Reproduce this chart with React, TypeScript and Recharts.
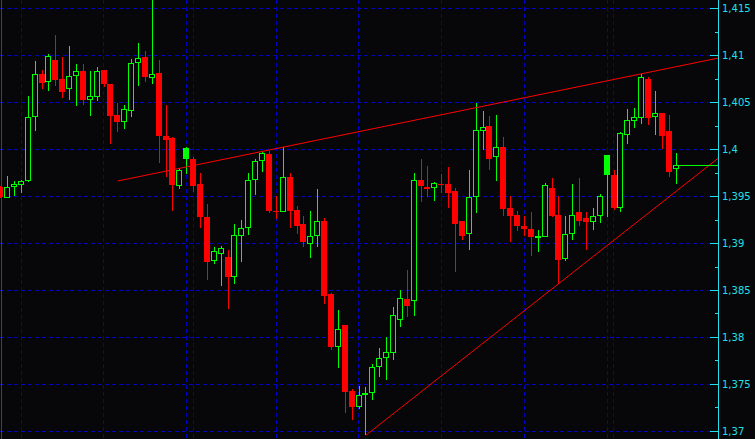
import { ComposedChart, Bar, XAxis, YAxis, ReferenceLine, CartesianGrid } from "recharts";

// One candle per period, oldest first
const opens = [
  1.3960, 1.3948, 1.3960, 1.3962, 1.3966, 1.4035, 1.4080, 1.4072, 1.4095, 1.4075,
  1.4064, 1.4078, 1.4084, 1.4053, 1.4056, 1.4085, 1.4070, 1.4037, 1.4029, 1.4041,
  1.4092, 1.4098, 1.4076, 1.4081, 1.4014, 1.4012, 1.3961, 1.3990, 1.3990, 1.3963,
  1.3928, 1.3881, 1.3889, 1.3886, 1.3864, 1.3908, 1.3917, 1.3968, 1.3988, 1.3995,
  1.3935, 1.3934, 1.3971, 1.3936, 1.3921, 1.3899, 1.3908, 1.3924, 1.3846, 1.3790,
  1.3813, 1.3743, 1.3726, 1.3739, 1.3741, 1.3769, 1.3778, 1.3784, 1.3819, 1.3841,
  1.3839, 1.3968, 1.3960, 1.3959, 1.3963, 1.3963, 1.3956, 1.3924, 1.3910, 1.3949,
  1.4020, 1.4025, 1.3992, 1.4003, 1.3938, 1.3930, 1.3919, 1.3915, 1.3906, 1.3907,
  1.3959, 1.3930, 1.3883, 1.3910, 1.3933, 1.3927, 1.3923, 1.3929, 1.3973, 1.3973,
  1.3938, 1.4015, 1.4030, 1.4034, 1.4075, 1.4035, 1.4039, 1.4020, 1.3979,
];
const highs = [
  1.3961, 1.3972, 1.3966, 1.3968, 1.4057, 1.4094, 1.4085, 1.4102, 1.4122, 1.4098,
  1.4110, 1.4091, 1.4091, 1.4083, 1.4088, 1.4085, 1.4070, 1.4049, 1.4047, 1.4096,
  1.4113, 1.4105, 1.4165, 1.4095, 1.4047, 1.4013, 1.3980, 1.4003, 1.3992, 1.3975,
  1.3942, 1.3896, 1.3897, 1.3893, 1.3921, 1.3925, 1.3975, 1.3990, 1.3998, 1.3998,
  1.3951, 1.4003, 1.3975, 1.3940, 1.3929, 1.3935, 1.3958, 1.3927, 1.3847, 1.3829,
  1.3813, 1.3745, 1.3748, 1.3747, 1.3772, 1.3789, 1.3801, 1.3832, 1.3850, 1.3872,
  1.3975, 1.3990, 1.3982, 1.3965, 1.3974, 1.3981, 1.3959, 1.3924, 1.3978, 1.4050,
  1.4041, 1.4036, 1.4037, 1.4013, 1.3951, 1.3935, 1.3929, 1.3934, 1.3914, 1.3964,
  1.3970, 1.3951, 1.3929, 1.3963, 1.3970, 1.3933, 1.3938, 1.3953, 1.3994, 1.3978,
  1.4019, 1.4043, 1.4044, 1.4080, 1.4077, 1.4062, 1.4039, 1.4037, 1.3996,
];
const lows = [
  1.3948, 1.3948, 1.3951, 1.3954, 1.3965, 1.4020, 1.4064, 1.4062, 1.4068, 1.4055,
  1.4053, 1.4046, 1.4047, 1.4036, 1.4052, 1.4067, 1.4006, 1.4019, 1.4022, 1.4035,
  1.4068, 1.4072, 1.4070, 1.3986, 1.3971, 1.3935, 1.3958, 1.3974, 1.3955, 1.3916,
  1.3861, 1.3878, 1.3855, 1.3830, 1.3857, 1.3880, 1.3909, 1.3952, 1.3976, 1.3932,
  1.3926, 1.3934, 1.3916, 1.3910, 1.3896, 1.3885, 1.3896, 1.3836, 1.3787, 1.3768,
  1.3720, 1.3712, 1.3724, 1.3696, 1.3733, 1.3758, 1.3755, 1.3776, 1.3811, 1.3822,
  1.3823, 1.3944, 1.3949, 1.3945, 1.3954, 1.3938, 1.3870, 1.3904, 1.3893, 1.3932,
  1.4000, 1.3978, 1.3966, 1.3929, 1.3902, 1.3913, 1.3908, 1.3887, 1.3891, 1.3907,
  1.3928, 1.3857, 1.3881, 1.3904, 1.3919, 1.3893, 1.3914, 1.3922, 1.3928, 1.3936,
  1.3934, 1.4006, 1.4023, 1.4027, 1.4026, 1.4015, 1.4001, 1.3971, 1.3963,
];
const closes = [
  1.3949, 1.3960, 1.3963, 1.3966, 1.4035, 1.4080, 1.4071, 1.4100, 1.4074, 1.4061,
  1.4078, 1.4084, 1.4053, 1.4057, 1.4083, 1.4070, 1.4036, 1.4029, 1.4043, 1.4092,
  1.4097, 1.4077, 1.4080, 1.4014, 1.4010, 1.3962, 1.3978, 1.4002, 1.3961, 1.3928,
  1.3880, 1.3892, 1.3895, 1.3864, 1.3909, 1.3917, 1.3968, 1.3988, 1.3996, 1.3935,
  1.3933, 1.3971, 1.3935, 1.3919, 1.3902, 1.3908, 1.3924, 1.3844, 1.3790, 1.3809,
  1.3742, 1.3726, 1.3739, 1.3741, 1.3769, 1.3778, 1.3785, 1.3824, 1.3842, 1.3833,
  1.3968, 1.3961, 1.3958, 1.3964, 1.3962, 1.3954, 1.3921, 1.3908, 1.3950, 1.4021,
  1.4024, 1.3990, 1.4003, 1.3937, 1.3929, 1.3919, 1.3915, 1.3907, 1.3908, 1.3962,
  1.3929, 1.3882, 1.3910, 1.3930, 1.3924, 1.3923, 1.3929, 1.3951, 1.3994, 1.3938,
  1.4018, 1.4031, 1.4035, 1.4077, 1.4034, 1.4039, 1.4014, 1.3976, 1.3983,
];

// bars whose bullish body is drawn filled
const solidBars = [27, 88];

const priceTicks = [1.37, 1.375, 1.38, 1.385, 1.39, 1.395, 1.4, 1.405, 1.41, 1.415];
const minorTicks = [1.3725, 1.3775, 1.3825, 1.3875, 1.3925, 1.3975, 1.4025, 1.4075, 1.4125];

// time separators (bar index)
const gridBars = [3, 15, 27, 28, 40, 52, 64, 76, 88, 89];
const sessionBreaks = [0.13];

// trend lines, anchored by bar index and price; 104.16 is the right edge of the plot
const upperTrend = [
  { bar: 17, price: 1.39665 },
  { bar: 104.16, price: 1.40973 },
];
const lowerTrend = [
  { bar: 53, price: 1.3696 },
  { bar: 104.16, price: 1.3991 },
];
const lastPriceFrom = 98.45;

const W = 755;
const H = 439;
const AXIS_W = 36.5;
const X_MIN = -0.087;
const X_MAX = 104.164;
const Y_MIN = 1.3692021;
const Y_MAX = 1.4159043;

const BG = "#070709";
const UP = "#00ff00";
const DOWN = "#ff0000";
const GRID = "#0000c8";
const CYAN = "#20e0ec";

const rows = opens.map((open, i) => ({
  i,
  open,
  high: highs[i],
  low: lows[i],
  close: closes[i],
  range: [lows[i], highs[i]],
  solid: solidBars.includes(i),
}));

const snap = (v: number) => Math.round(v - 0.5) + 0.5;

// axis scale -> pixel, tolerant of the scale not being ready yet
function toPx(axis: any, v: number) {
  const s = axis?.scale;
  if (typeof s === "function") return s(v);
  if (s && typeof s.map === "function") return s.map(v);
  return NaN;
}

function gridCoords(axis: any, values: number[]) {
  return values.map((v) => toPx(axis, v)).filter((p) => Number.isFinite(p)).map(snap);
}

function Candle(props: any) {
  const { x, y, width, height, payload } = props;
  if (x == null || y == null || !height) return null;
  const { open, close, high, low, solid } = payload;
  const k = height / (high - low);
  const py = (v: number) => y + (high - v) * k;
  const bx = Math.round(x + width / 2 - 3);
  const wTop = Math.round(py(high));
  const wBot = Math.round(py(low));
  const top = Math.round(py(Math.max(open, close)));
  const bot = Math.round(py(Math.min(open, close)));
  const up = close >= open;
  const color = up ? UP : DOWN;
  const h = Math.max(1, bot - top);
  return (
    <g>
      <rect x={bx + 3} y={wTop} width={1} height={Math.max(1, wBot - wTop)} fill={color} />
      {!up || solid || h < 3 ? (
        <rect x={bx} y={top} width={6} height={h} fill={color} />
      ) : (
        <rect x={bx + 0.5} y={top + 0.5} width={5} height={h - 1} fill={BG} stroke={color} strokeWidth={1} />
      )}
    </g>
  );
}

function PriceTick(props: any) {
  const { y, payload } = props;
  const v = payload.value;
  const major = priceTicks.includes(v);
  const ty = snap(y);
  return (
    <g>
      <line x1={major ? 710 : 715} x2={718} y1={ty} y2={ty} stroke={CYAN} />
      {major && (
        <text x={722} y={ty + 3.5} fill={CYAN} fontSize={10} fontFamily="DejaVu Sans">
          {String(v).replace(".", ",")}
        </text>
      )}
    </g>
  );
}

export default function App() {
  return (
    <div style={{ position: "absolute", left: 0, top: 0, width: W, height: H, background: BG }}>
      <ComposedChart width={W} height={H} data={rows} margin={{ top: 0, right: 0, bottom: 0, left: 0 }}>
        <XAxis
          type="number"
          dataKey="i"
          domain={[X_MIN, X_MAX]}
          allowDataOverflow
          hide
          ticks={rows.map((r) => r.i)}
        />
        <YAxis
          orientation="right"
          width={AXIS_W}
          domain={[Y_MIN, Y_MAX]}
          allowDataOverflow
          ticks={[...priceTicks, ...minorTicks]}
          interval={0}
          tickSize={0}
          tickMargin={0}
          tickLine={false}
          axisLine={{ stroke: CYAN }}
          tick={(p: any) => <PriceTick {...p} />}
        />
        {/* grid stays behind the candles */}
        <CartesianGrid
          stroke={GRID}
          strokeDasharray="4 3"
          horizontalCoordinatesGenerator={({ yAxis }: any) => gridCoords(yAxis, priceTicks)}
          verticalCoordinatesGenerator={({ xAxis }: any) => gridCoords(xAxis, gridBars)}
        />
        <CartesianGrid
          stroke="#7a1a8c"
          horizontal={false}
          verticalCoordinatesGenerator={({ xAxis }: any) => gridCoords(xAxis, sessionBreaks)}
        />
        <Bar dataKey="range" barSize={6} isAnimationActive={false} shape={(p: any) => <Candle {...p} />} />
        <ReferenceLine
          segment={upperTrend.map((p) => ({ x: p.bar, y: p.price }))}
          stroke={DOWN}
          strokeWidth={1}
        />
        <ReferenceLine
          segment={lowerTrend.map((p) => ({ x: p.bar, y: p.price }))}
          stroke={DOWN}
          strokeWidth={1}
        />
        <ReferenceLine
          segment={[
            { x: lastPriceFrom, y: closes[closes.length - 1] },
            { x: X_MAX, y: closes[closes.length - 1] },
          ]}
          stroke={UP}
          strokeWidth={1}
        />
      </ComposedChart>
    </div>
  );
}
